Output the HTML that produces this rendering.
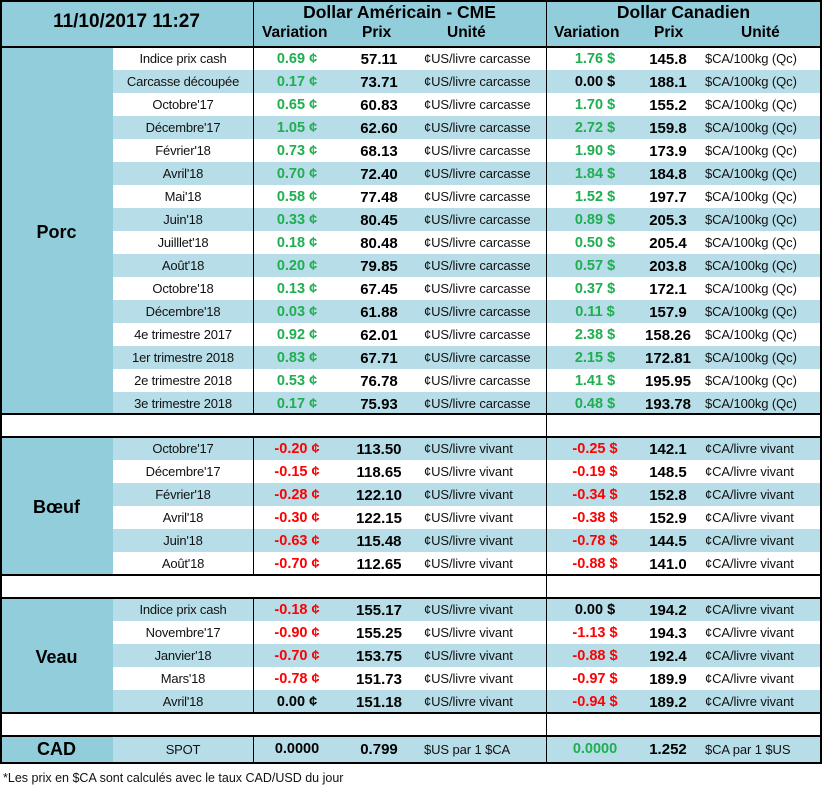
<!DOCTYPE html>
<html><head><meta charset="utf-8"><style>
body{margin:0;width:822px;height:791px;background:#fff;font-family:"Liberation Sans",sans-serif;position:relative;overflow:hidden}
.a{position:absolute;white-space:nowrap}
.c{text-align:center}
.it{font-size:13px;color:#111;letter-spacing:-0.2px}
.v{font-size:14.5px;font-weight:bold}
.p{font-size:15px;font-weight:bold;color:#000}
.u{font-size:13px;color:#111;letter-spacing:-0.1px}
.g{color:#1fae50}.r{color:#ff0000}.k{color:#000}
.hl{position:absolute;left:0;width:821px;height:2px;background:#000}
.vl{position:absolute;width:1px;background:#000}
</style></head><body>
<div class="a" style="left:0;top:0;width:821px;height:46px;background:#92cddc"></div>
<div class="a c" style="left:0;top:11px;width:253px;font-size:19px;font-weight:bold">11/10/2017 11:27</div>
<div class="a c" style="left:253px;top:2px;width:293px;font-size:17.5px;font-weight:bold">Dollar Américain - CME</div>
<div class="a c" style="left:546px;top:2px;width:275px;font-size:17.5px;font-weight:bold">Dollar Canadien</div>
<div class="a" style="left:262px;top:24px;font-size:15.5px;font-weight:bold">Variation</div>
<div class="a" style="left:362px;top:24px;font-size:15.5px;font-weight:bold">Prix</div>
<div class="a" style="left:447px;top:24px;font-size:15.5px;font-weight:bold">Unité</div>
<div class="a" style="left:554px;top:24px;font-size:15.5px;font-weight:bold">Variation</div>
<div class="a" style="left:654px;top:24px;font-size:15.5px;font-weight:bold">Prix</div>
<div class="a" style="left:741px;top:24px;font-size:15.5px;font-weight:bold">Unité</div>
<div id="rows"></div>
<script>
const porc=[["Indice prix cash","0.69 ¢","57.11","1.76 $","145.8"],["Carcasse découpée","0.17 ¢","73.71","0.00 $","188.1"],["Octobre'17","0.65 ¢","60.83","1.70 $","155.2"],["Décembre'17","1.05 ¢","62.60","2.72 $","159.8"],["Février'18","0.73 ¢","68.13","1.90 $","173.9"],["Avril'18","0.70 ¢","72.40","1.84 $","184.8"],["Mai'18","0.58 ¢","77.48","1.52 $","197.7"],["Juin'18","0.33 ¢","80.45","0.89 $","205.3"],["Juilllet'18","0.18 ¢","80.48","0.50 $","205.4"],["Août'18","0.20 ¢","79.85","0.57 $","203.8"],["Octobre'18","0.13 ¢","67.45","0.37 $","172.1"],["Décembre'18","0.03 ¢","61.88","0.11 $","157.9"],["4e trimestre 2017","0.92 ¢","62.01","2.38 $","158.26"],["1er trimestre 2018","0.83 ¢","67.71","2.15 $","172.81"],["2e trimestre 2018","0.53 ¢","76.78","1.41 $","195.95"],["3e trimestre 2018","0.17 ¢","75.93","0.48 $","193.78"]];
const boeuf=[["Octobre'17","-0.20 ¢","113.50","-0.25 $","142.1"],["Décembre'17","-0.15 ¢","118.65","-0.19 $","148.5"],["Février'18","-0.28 ¢","122.10","-0.34 $","152.8"],["Avril'18","-0.30 ¢","122.15","-0.38 $","152.9"],["Juin'18","-0.63 ¢","115.48","-0.78 $","144.5"],["Août'18","-0.70 ¢","112.65","-0.88 $","141.0"]];
const veau=[["Indice prix cash","-0.18 ¢","155.17","0.00 $","194.2"],["Novembre'17","-0.90 ¢","155.25","-1.13 $","194.3"],["Janvier'18","-0.70 ¢","153.75","-0.88 $","192.4"],["Mars'18","-0.78 ¢","151.73","-0.97 $","189.9"],["Avril'18","0.00 ¢","151.18","-0.94 $","189.2"]];
let h="";
function sec(top,name,data,firstBlue,u1,u2){
  const H=23,n=data.length;
  h+=`<div class="a" style="left:0;top:${top}px;width:113px;height:${n*H}px;background:#92cddc"></div>`;
  h+=`<div class="a c" style="left:0;top:${top+n*H/2-9}px;width:113px;font-size:18px;font-weight:bold">${name}</div>`;
  data.forEach((d,i)=>{
    const y=top+i*H, blue=(i%2==0)==firstBlue;
    if(blue)h+=`<div class="a" style="left:113px;top:${y}px;width:708px;height:${H}px;background:#b7dee8"></div>`;
    const cv=v=>v.startsWith('-')?'r':(v.startsWith('0.00')?'k':'g');
    let c1=cv(d[1]),c2=cv(d[3]);
    h+=`<div class="a c it" style="left:113px;top:${y+4}px;width:140px">${d[0]}</div>`;
    h+=`<div class="a c v ${c1}" style="left:253px;top:${y+4}px;width:88px">${d[1]}</div>`;
    h+=`<div class="a c p" style="left:340px;top:${y+4}px;width:78px">${d[2]}</div>`;
    h+=`<div class="a u" style="left:424px;top:${y+4}px">${u1}</div>`;
    h+=`<div class="a c v ${c2}" style="left:550px;top:${y+4}px;width:90px">${d[3]}</div>`;
    h+=`<div class="a c p" style="left:630px;top:${y+4}px;width:76px">${d[4]}</div>`;
    h+=`<div class="a u" style="left:705px;top:${y+4}px">${u2}</div>`;
  });
}
sec(47,"Porc",porc,false,"¢US/livre carcasse","$CA/100kg (Qc)");
sec(437,"Bœuf",boeuf,true,"¢US/livre vivant","¢CA/livre vivant");
sec(598,"Veau",veau,true,"¢US/livre vivant","¢CA/livre vivant");
h+=`<div class="a" style="left:0;top:736px;width:821px;height:26px;background:#b7dee8"></div>`;
h+=`<div class="a" style="left:0;top:736px;width:113px;height:26px;background:#92cddc"></div>`;
h+=`<div class="a c" style="left:0;top:739px;width:113px;font-size:18px;font-weight:bold">CAD</div>`;
h+=`<div class="a c it" style="left:113px;top:742px;width:140px">SPOT</div>`;
h+=`<div class="a c v k" style="left:253px;top:741px;width:88px">0.0000</div>`;
h+=`<div class="a c p" style="left:340px;top:741px;width:78px">0.799</div>`;
h+=`<div class="a u" style="left:424px;top:742px">$US par 1 $CA</div>`;
h+=`<div class="a c v g" style="left:550px;top:741px;width:90px">0.0000</div>`;
h+=`<div class="a c p" style="left:630px;top:741px;width:76px">1.252</div>`;
h+=`<div class="a u" style="left:705px;top:742px">$CA par 1 $US</div>`;
h+=`<div class="a" style="left:3px;top:771px;font-size:12.5px;color:#111">*Les  prix en $CA sont calculés avec le taux CAD/USD du jour</div>`;
[0,46,413,436,574,597,712,735,762].forEach(y=>h+=`<div class="hl" style="top:${y}px"></div>`);
h+=`<div class="vl" style="left:0;top:0;height:764px;width:2px"></div><div class="vl" style="left:820px;top:0;height:764px;width:2px"></div>`;
[[0,46],[46,414],[437,575],[598,713],[736,762]].forEach(([a,b])=>h+=`<div class="vl" style="left:253px;top:${a}px;height:${b-a}px"></div>`);
h+=`<div class="vl" style="left:546px;top:0;height:762px"></div>`;
document.getElementById('rows').innerHTML=h;
</script>
</body></html>
